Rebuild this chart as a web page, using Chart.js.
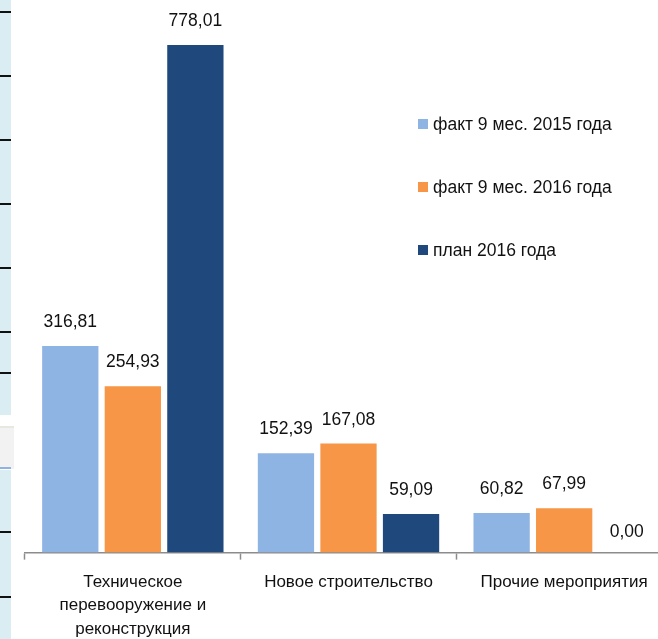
<!DOCTYPE html>
<html>
<head>
<meta charset="utf-8">
<script src="https://cdn.jsdelivr.net/npm/chart.js@4"></script>
<style>
  html, body { margin: 0; padding: 0; background: #fff; overflow: hidden; }
  #wrap { position: relative; width: 658px; height: 639px; overflow: hidden; }
  #chart { position: absolute; left: 0; top: 0; }
  /* cropped neighbour slide on the left edge */
  .strip { position: absolute; left: 0; width: 11px; background: #daedf3; }
  .tick { position: absolute; left: 0; width: 11px; height: 2px; background: #111; }
  .gray { position: absolute; left: 0; top: 426px; width: 14px; height: 41px; background: #f2f2f2; border-top: 2px solid #e8e8e0; }
  .bline { position: absolute; left: 0; top: 467px; width: 11px; height: 2px; background: #8eb4e3; }
</style>
</head>
<body>
<div id="wrap">
  <canvas id="chart" width="672" height="639"></canvas>
  <div class="strip" style="top:0;height:415px"></div>
  <div class="strip" style="top:470px;height:169px"></div>
  <div class="gray"></div>
  <div class="bline"></div>
  <div class="tick" style="top:11px"></div>
  <div class="tick" style="top:75px"></div>
  <div class="tick" style="top:139px"></div>
  <div class="tick" style="top:203px"></div>
  <div class="tick" style="top:267px"></div>
  <div class="tick" style="top:331px"></div>
  <div class="tick" style="top:372px"></div>
  <div class="tick" style="top:531px"></div>
  <div class="tick" style="top:596px"></div>
</div>
<script>
// ---- data ----
const categories = [
  ['Техническое', 'перевооружение и', 'реконструкция'],
  'Новое строительство',
  'Прочие мероприятия'
];
const seriesNames = ['факт 9 мес. 2015 года', 'факт 9 мес. 2016 года', 'план 2016 года'];
const fact2015 = [316.81, 152.39, 60.82];
const fact2016 = [254.93, 167.08, 67.99];
const plan2016 = [778.01, 59.09, 0.00];
const colors = ['#8eb4e3', '#f79646', '#1f497d'];

const FONT = "'Liberation Sans', Arial, sans-serif";

// value labels above the bars
const valueLabels = {
  id: 'valueLabels',
  afterDatasetsDraw(chart) {
    const ctx = chart.ctx;
    ctx.save();
    ctx.font = '17.5px ' + FONT;
    ctx.fillStyle = '#111';
    ctx.textAlign = 'center';
    ctx.textBaseline = 'bottom';
    chart.data.datasets.forEach((ds, i) => {
      chart.getDatasetMeta(i).data.forEach((bar, j) => {
        const txt = ds.data[j].toFixed(2).replace('.', ',');
        const off = ds.data[j] === 0 ? 12 : 15;
        ctx.fillText(txt, bar.x, bar.y - off);
      });
    });
    ctx.restore();
  }
};

// legend placed inside the plot, on the right
const sideLegend = {
  id: 'sideLegend',
  afterDraw(chart) {
    const ctx = chart.ctx;
    ctx.save();
    ctx.font = '17.5px ' + FONT;
    ctx.textBaseline = 'middle';
    ctx.textAlign = 'left';
    chart.data.datasets.forEach((ds, i) => {
      const y = 124 + i * 63;
      ctx.fillStyle = ds.backgroundColor;
      ctx.fillRect(418, y - 5, 10, 10);
      ctx.fillStyle = '#111';
      ctx.fillText(ds.label, 433, y + 1);
    });
    ctx.restore();
  }
};

const ctx = document.getElementById('chart').getContext('2d');
new Chart(ctx, {
  type: 'bar',
  data: {
    labels: categories,
    datasets: [fact2015, fact2016, plan2016].map((d, i) => ({
      label: seriesNames[i],
      data: d,
      backgroundColor: colors[i],
      borderWidth: 0,
      categoryPercentage: 0.87,
      barPercentage: 0.9
    }))
  },
  options: {
    responsive: false,
    animation: false,
    layout: { padding: { left: 25, right: 0, top: 0, bottom: -13 } },
    plugins: { legend: { display: false }, tooltip: { enabled: false } },
    scales: {
      x: {
        grid: { display: true, offset: true, drawOnChartArea: false, tickLength: 7, tickColor: '#8c8c8c', tickWidth: 1.5 },
        border: { color: '#8c8c8c', width: 1.5 },
        ticks: { color: '#111', font: { family: FONT, size: 17, lineHeight: 1.38 }, padding: 11, maxRotation: 0, autoSkip: false }
      },
      y: { display: false, min: 0, max: 847 }
    }
  },
  plugins: [valueLabels, sideLegend]
});
</script>
</body>
</html>
